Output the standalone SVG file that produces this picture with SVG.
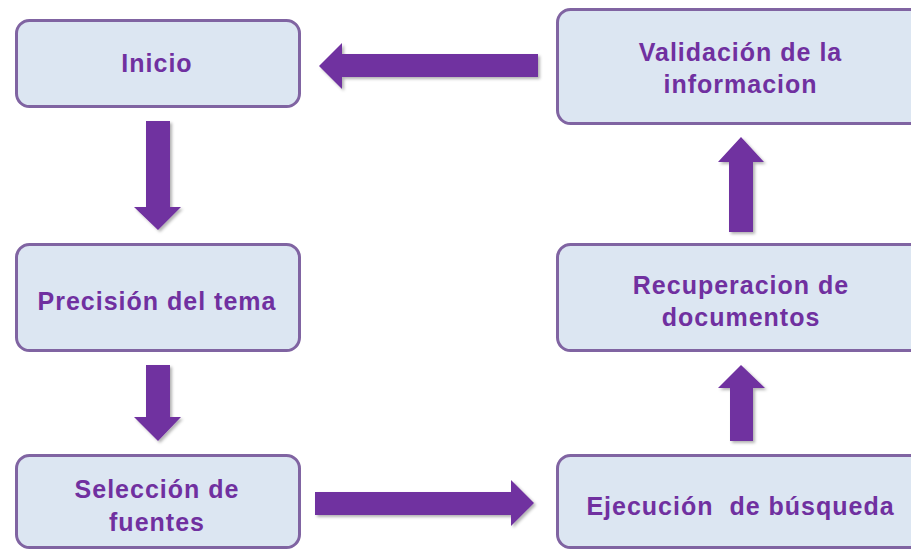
<svg xmlns="http://www.w3.org/2000/svg" width="911" height="550" viewBox="0 0 911 550">
  <defs>
    <filter id="shadow" x="-20%" y="-20%" width="140%" height="140%">
      <feDropShadow dx="2" dy="2" stdDeviation="1.5" flood-color="#000" flood-opacity="0.3"/>
    </filter>
    <style>
      .box { fill: #dce6f2; stroke: #8064a2; stroke-width: 3; }
      .lbl { font-family: "Liberation Sans", Arial, sans-serif; font-weight: bold; font-size: 25px; fill: #7030a0; text-anchor: middle; letter-spacing: 1px; white-space: pre; }
      .arrow { fill: #7030a0; filter: url(#shadow); }
    </style>
  </defs>
  <rect width="911" height="550" fill="#ffffff"/>

  <g id="connectors">
    <polygon class="arrow" points="146,121 170,121 170,207 181,207 158,230 134,207 146,207"/>
    <polygon class="arrow" points="146,365 170,365 170,417 181,417 158,441 134,417 146,417"/>
    <polygon class="arrow" points="538,54 538,77 342,77 342,89 319,66 342,43 342,54"/>
    <polygon class="arrow" points="315,492 511,492 511,480 534,503 511,526 511,515 315,515"/>
    <polygon class="arrow" points="729,232 753,232 753,162 764,162 741,137 718,162 729,162"/>
    <polygon class="arrow" points="730,441 753,441 753,388 765,388 741,365 718,388 730,388"/>
  </g>

  <g id="inicio">
    <rect class="box" x="16.5" y="20.5" width="283" height="86" rx="13"/>
    <text class="lbl" x="157" y="71.5">Inicio</text>
  </g>
  <g id="precision">
    <rect class="box" x="16.5" y="244.5" width="283" height="106" rx="13"/>
    <text class="lbl" x="157" y="309.5">Precisión del tema</text>
  </g>
  <g id="seleccion">
    <rect class="box" x="16.5" y="455.5" width="283" height="92" rx="13"/>
    <text class="lbl" x="157" y="497.5">Selección de</text>
    <text class="lbl" x="157" y="530.5">fuentes</text>
  </g>
  <g id="validacion">
    <rect class="box" x="557.5" y="9.5" width="367" height="114" rx="13"/>
    <text class="lbl" x="740.5" y="60.5">Validación de la</text>
    <text class="lbl" x="740.5" y="93">informacion</text>
  </g>
  <g id="recuperacion">
    <rect class="box" x="557.5" y="244.5" width="367" height="106" rx="13"/>
    <text class="lbl" x="741" y="293.5">Recuperacion de</text>
    <text class="lbl" x="741" y="325.5">documentos</text>
  </g>
  <g id="ejecucion">
    <rect class="box" x="557.5" y="455.5" width="367" height="92" rx="13"/>
    <text class="lbl" x="740.5" y="514.5">Ejecución  de búsqueda</text>
  </g>
</svg>
